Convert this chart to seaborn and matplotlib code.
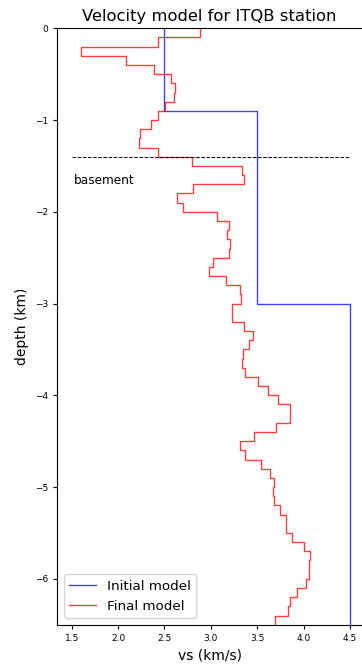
import matplotlib
matplotlib.use("Agg")
import matplotlib.pyplot as plt
import seaborn as sns
import pandas as pd
import numpy as np

# Initial (starting) model: layer velocities and interface depths (km)
init_vs = [2.5, 3.5, 4.5]
init_bounds = [0.0, -0.9, -3.0, -6.5]

# Final (inverted) model: 0.1 km thick layers from the surface down
layer_thick = 0.1
final_vs = [2.88, 2.43, 1.60, 2.08, 2.39, 2.57, 2.61, 2.60, 2.51, 2.43,
            2.35, 2.24, 2.23, 2.43, 2.80, 3.34, 3.36, 2.81, 2.63, 2.70,
            3.07, 3.20, 3.17, 3.21, 3.20, 3.02, 2.98, 3.16, 3.31, 3.32,
            3.23, 3.23, 3.36, 3.45, 3.41, 3.35, 3.34, 3.37, 3.51, 3.61,
            3.72, 3.85, 3.85, 3.70, 3.46, 3.31, 3.37, 3.54, 3.64, 3.68,
            3.67, 3.68, 3.75, 3.81, 3.81, 3.87, 4.00, 4.07, 4.06, 4.06,
            4.02, 3.93, 3.85, 3.83, 3.69]

basement_depth = -1.4


def staircase(vs, bounds):
    # each layer drawn as a vertical segment from its top to its bottom
    xs = np.repeat(vs, 2)
    ys = np.column_stack([bounds[:-1], bounds[1:]]).ravel()
    return pd.DataFrame({"vs": xs, "depth": ys})


final_bounds = -layer_thick * np.arange(len(final_vs) + 1)
df_init = staircase(init_vs, np.array(init_bounds))
df_final = staircase(final_vs, final_bounds)

W, H = 362, 671
fig = plt.figure(figsize=(W / 100, H / 100), dpi=100)
ax = fig.add_axes([57.3 / W, (H - 624.7) / H, (W - 57.3) / W, (624.7 - 28.3) / H])

sns.lineplot(data=df_init, x="vs", y="depth", sort=False, estimator=None,
             color="blue", alpha=0.75, lw=1.0, label="Initial model", ax=ax)
sns.lineplot(data=df_final, x="vs", y="depth", sort=False, estimator=None,
             color="red", alpha=0.75, lw=1.0, label="Final model", ax=ax)

ax.hlines(basement_depth, 1.5, 4.5, colors="black", linestyles="--", lw=0.7)
ax.text(1.52, -1.66, "basement", fontsize=8.7, va="center", ha="left")

ax.set_xlim(1.345, 1.5 + (W - 71.7) / 92.8)
ax.set_ylim(-6.5, 0)
ax.set_xticks([1.5, 2.0, 2.5, 3.0, 3.5, 4.0, 4.5])
ax.set_yticks([0, -1, -2, -3, -4, -5, -6])
ax.tick_params(labelsize=6.5, length=3, width=0.8)
ax.spines["right"].set_visible(False)

ax.set_xlabel("vs (km/s)", fontsize=10)
ax.set_ylabel("depth (km)", fontsize=10)
ax.set_title("Velocity model for ITQB station", fontsize=11.8, pad=5)
ax.legend(loc="lower left", fontsize=9.7)

fig.savefig("out.png", dpi=100)
